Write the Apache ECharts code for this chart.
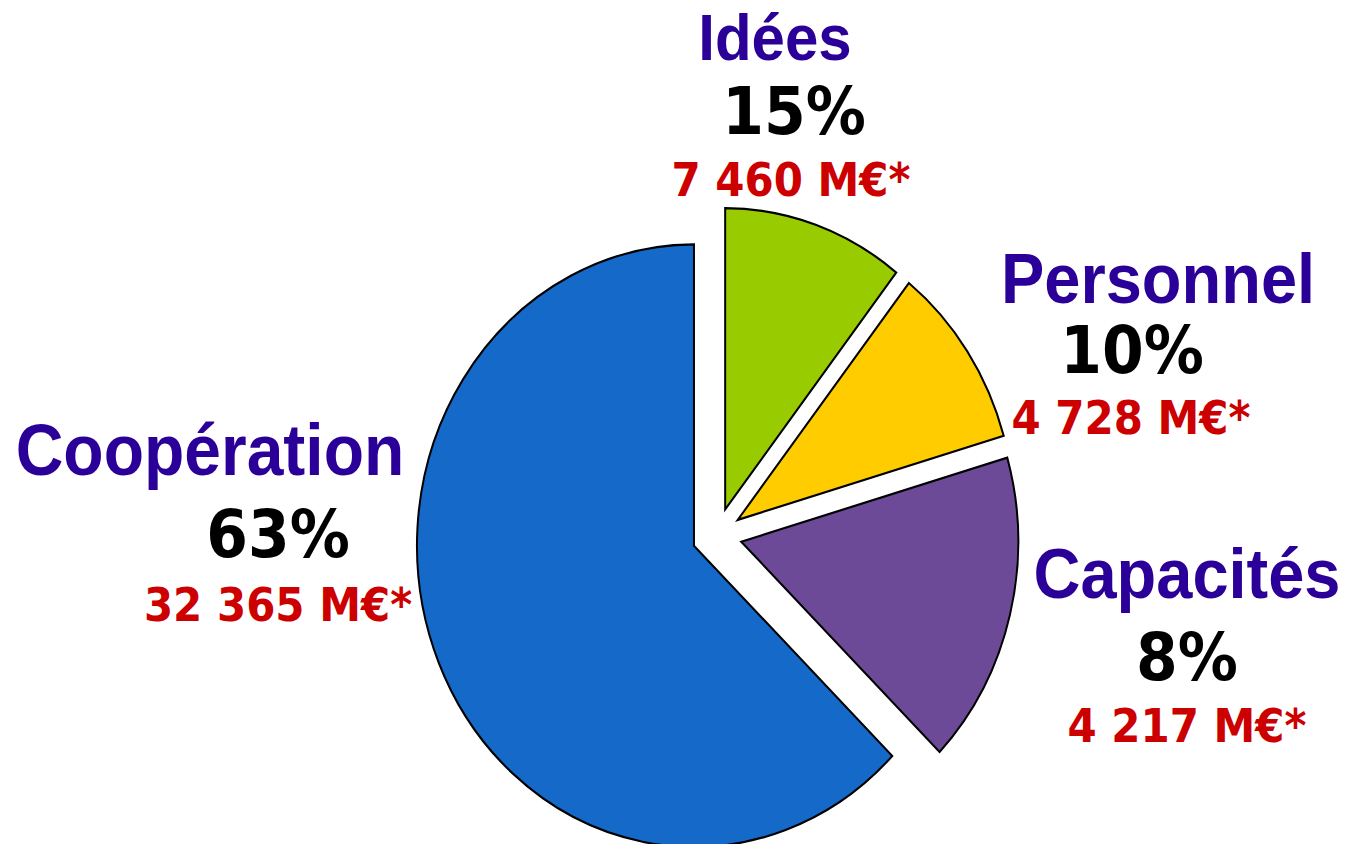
<!DOCTYPE html>
<html>
<head>
<meta charset="utf-8">
<script src="https://cdn.jsdelivr.net/npm/echarts@6/dist/echarts.min.js"></script>
<style>
html, body { margin: 0; padding: 0; background: #ffffff; overflow: hidden; }
#wrap { width: 1348px; height: 844px; overflow: hidden; }
#chart { width: 1348px; height: 776px; transform: scaleY(1.08763); transform-origin: 0 0; }
</style>
</head>
<body>
<div id="wrap"><div id="chart"></div></div>
<script>
// ---- data ----
const categories = ['Idées', 'Personnel', 'Capacités', 'Coopération'];
// angular share of each slice as drawn in the picture (%)
const sliceShares = [10.6, 9.9, 16.8, 62.7];
// printed percentages
const percentLabels = [15, 10, 8, 63];
// printed amounts (M€)
const amountsMEUR = [7460, 4728, 4217, 32365];

// ---- styles ----
const sliceColors = ['#99CC00', '#FFCC00', '#6C4A97', '#1469C9'];
const nameColor = '#2B0099';
const amountColor = '#CC0000';
const titleSizes = [60, 65, 65, 66];

// label anchor points (unscaled chart coordinates): [name, percent, amount]
const labelAnchors = [
  [[775, 34], [794, 103], [791, 165.5]],
  [[1158, 256], [1132, 322], [1131, 384]],
  [[1187, 527], [1187, 605], [1187, 667]],
  [[210, 414], [278, 492], [278, 556]]
];

function fmtAmount(v) {
  return String(v).replace(/\B(?=(\d{3})+(?!\d))/g, ' ') + ' M€*';
}

function textEl(pos, text, font, fill) {
  return {
    type: 'text',
    x: pos[0], y: pos[1], z: 100,
    silent: true,
    style: {
      text: text, font: font, fill: fill,
      align: 'center', verticalAlign: 'middle',
      textAlign: 'center', textVerticalAlign: 'middle'
    }
  };
}

const graphics = [];
categories.forEach(function (c, i) {
  const a = labelAnchors[i];
  graphics.push(textEl(a[0], c, 'bold ' + titleSizes[i] + 'px "Liberation Sans", Arial, sans-serif', nameColor));
  graphics.push(textEl(a[1], percentLabels[i] + '%', 'bold 60px "DejaVu Sans", Verdana, sans-serif', '#000000'));
  graphics.push(textEl(a[2], fmtAmount(amountsMEUR[i]), 'bold 42px "DejaVu Sans", Verdana, sans-serif', amountColor));
});

const chart = echarts.init(document.getElementById('chart'), null, { renderer: 'svg' });
chart.setOption({
  animation: false,
  backgroundColor: '#ffffff',
  tooltip: { show: false },
  graphic: { elements: graphics },
  series: [{
    type: 'pie',
    center: [717, 492],
    radius: 277,
    startAngle: 90,
    clockwise: true,
    selectedMode: 'multiple',
    selectedOffset: 25,
    avoidLabelOverlap: false,
    label: { show: false },
    labelLine: { show: false },
    emphasis: { disabled: true },
    itemStyle: { borderColor: '#000000', borderWidth: 2, borderJoin: 'miter' },
    data: categories.map(function (c, i) {
      return {
        name: c,
        value: sliceShares[i],
        selected: true,
        itemStyle: { color: sliceColors[i] },
        select: { itemStyle: { color: sliceColors[i], borderColor: '#000000', borderWidth: 2 } }
      };
    })
  }]
});
</script>
</body>
</html>
